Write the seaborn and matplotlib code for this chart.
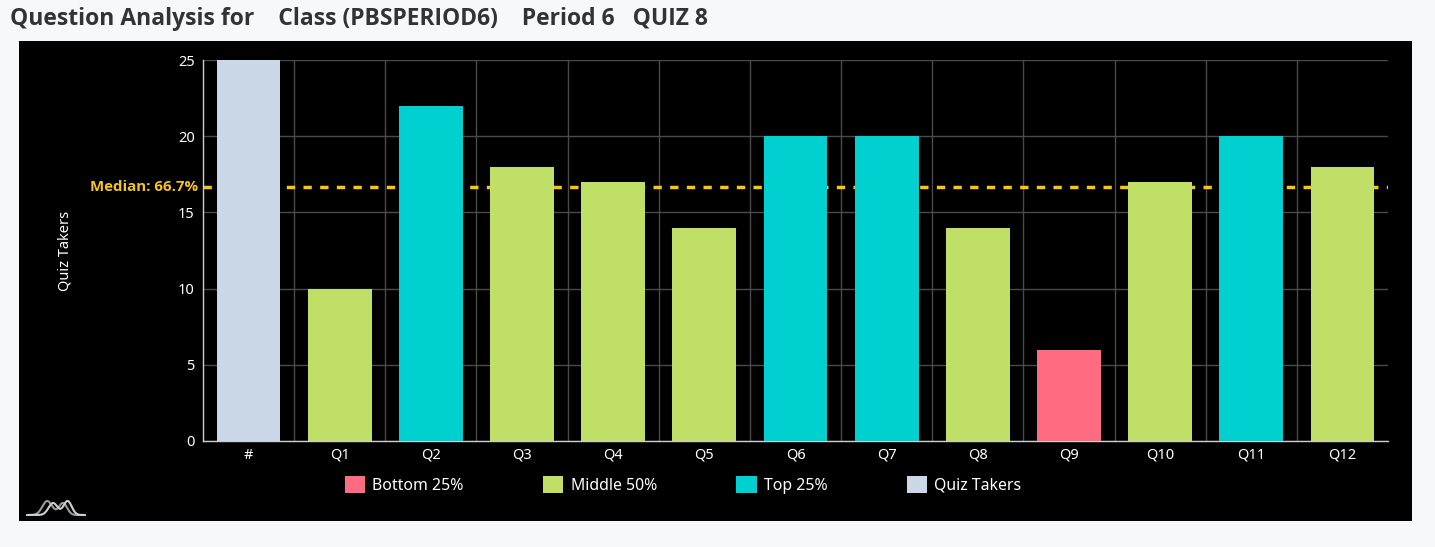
import numpy as np
import pandas as pd
import matplotlib
matplotlib.use("Agg")
import matplotlib.pyplot as plt
import seaborn as sns
from matplotlib.patches import Rectangle
from matplotlib.lines import Line2D

# ---- data ----
categories = ["#", "Q1", "Q2", "Q3", "Q4", "Q5", "Q6", "Q7", "Q8", "Q9", "Q10", "Q11", "Q12"]
values = [25, 10, 22, 18, 17, 14, 20, 20, 14, 6, 17, 20, 18]
groups = ["Quiz Takers", "Middle 50%", "Top 25%", "Middle 50%", "Middle 50%", "Middle 50%",
          "Top 25%", "Top 25%", "Middle 50%", "Bottom 25%", "Middle 50%", "Top 25%", "Middle 50%"]
legend_order = ["Bottom 25%", "Middle 50%", "Top 25%", "Quiz Takers"]
group_colors = ["#ff6b81", "#bfdf66", "#00d0d0", "#cbd8e8"]
total_takers = 25
median_pct = 66.7
yticks = [0, 5, 10, 15, 20, 25]
title = "Question Analysis for    Class (PBSPERIOD6)    Period 6   QUIZ 8"

df = pd.DataFrame({"cat": categories, "val": values, "grp": groups})
palette = dict(zip(legend_order, group_colors))

sns.set_theme(style="dark")
plt.rcParams["font.family"] = ["Noto Sans", "DejaVu Sans"]

W, H = 1435, 547
fig = plt.figure(figsize=(W / 100, H / 100), dpi=100, facecolor="#f7f8fa")

# black panel
fig.add_artist(Rectangle((19 / W, 1 - 521 / H), (1412 - 19) / W, (521 - 41) / H,
                         transform=fig.transFigure, facecolor="black", edgecolor="none", zorder=0))

ax_l, ax_r, ax_t, ax_b = 203, 1388, 60, 441
ax = fig.add_axes([ax_l / W, 1 - ax_b / H, (ax_r - ax_l) / W, (ax_b - ax_t) / H])
ax.set_facecolor("black")

sns.barplot(data=df, x="cat", y="val", hue="grp", hue_order=legend_order, palette=palette,
            dodge=False, width=0.7, saturation=1, ax=ax, legend=False, zorder=3,
            linewidth=0, edgecolor="none")

ax.set_xlim(-0.5, len(categories) - 0.5)
ax.set_ylim(0, 25)
ax.set_yticks(yticks)
ax.set_xticks(range(len(categories)))
ax.set_xticklabels(categories)
ax.set_xticks(np.arange(0.5, len(categories) - 1, 1.0), minor=True)

ax.grid(False)
ax.yaxis.grid(True, which="major", color="#4a4a4a", linewidth=1, zorder=0)
ax.xaxis.grid(True, which="minor", color="#4a4a4a", linewidth=1, zorder=0)
ax.set_axisbelow(True)

for s in ["top", "right"]:
    ax.spines[s].set_visible(False)
for s in ["left", "bottom"]:
    ax.spines[s].set_visible(True)
    ax.spines[s].set_color("#cfcfcf")
    ax.spines[s].set_linewidth(1)

ax.tick_params(axis="both", which="both", length=0, colors="white", labelsize=10.5)
ax.tick_params(axis="y", pad=6)
ax.tick_params(axis="x", pad=5)
ax.set_xlabel("")
ax.set_ylabel("Quiz Takers", color="white", fontsize=10.5)
ax.yaxis.set_label_coords((73 - ax_l) / (ax_r - ax_l), 0.5)

# median line (drawn behind the bars)
med_y = total_takers * median_pct / 100
ax.axhline(med_y, color="#f5c518", linewidth=2.5, linestyle=(0, (2.4, 2.4)), zorder=2)
ax.text(-5 / (ax_r - ax_l), med_y, f"Median: {median_pct:.1f}%", transform=ax.get_yaxis_transform(),
        ha="right", va="center", color="#f5c518", fontsize=10.8, fontweight="bold",
        family=["Open Sans", "DejaVu Sans"])

# legend
handles = [Rectangle((0, 0), 1, 1, facecolor=c, edgecolor="none") for c in group_colors]
leg = fig.legend(handles, legend_order, loc="center", bbox_to_anchor=(683 / W, 1 - 485 / H),
                 ncol=4, frameon=False, fontsize=11.4, labelcolor="white",
                 handlelength=1.3, handleheight=1.3, handletextpad=0.45, columnspacing=5.0)

# title
fig.text(10 / W, 1 - 19 / H, title, ha="left", va="center", fontsize=16.5, fontweight="bold",
         color="#333333", family=["Open Sans", "DejaVu Sans"])

# small logo
t = np.linspace(0, 1, 200)
lx = 27 + 58 * t
ly = 515 - 14 * np.exp(-((t - 0.35) / 0.12) ** 2) - 12 * np.exp(-((t - 0.62) / 0.1) ** 2)
fig.add_artist(Line2D(lx / W, 1 - ly / H, transform=fig.transFigure, color="#9a9a9a", linewidth=1.5))
ly2 = 515 - 12 * np.exp(-((t - 0.45) / 0.11) ** 2) - 14 * np.exp(-((t - 0.7) / 0.1) ** 2)
fig.add_artist(Line2D(lx / W, 1 - ly2 / H, transform=fig.transFigure, color="#cfcfcf", linewidth=1.5))

fig.savefig("out.png", dpi=100, facecolor=fig.get_facecolor())
